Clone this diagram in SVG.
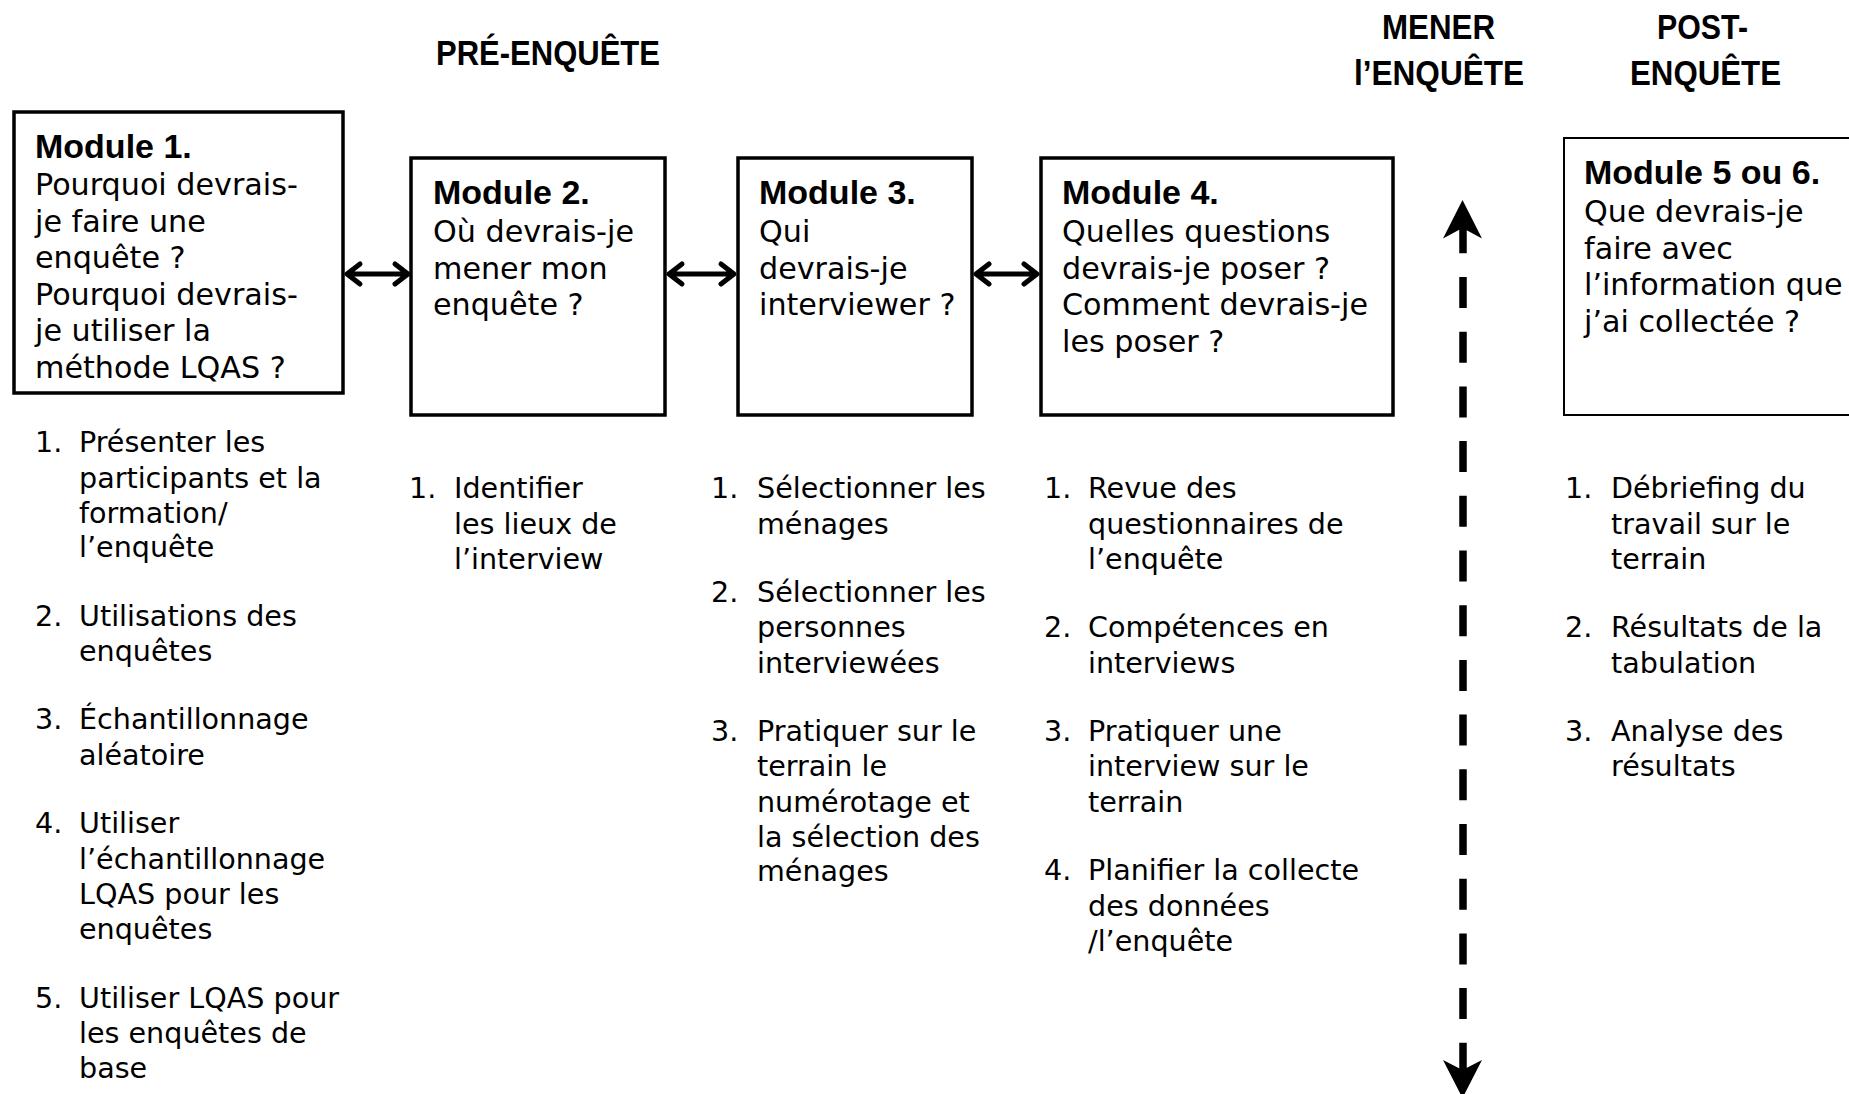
<svg xmlns="http://www.w3.org/2000/svg" width="1849" height="1094" viewBox="0 0 1849 1094">
<style>
.box{fill:#fff;stroke:#000;stroke-width:3.5}
.box5{fill:#fff;stroke:#000;stroke-width:2}
.t{font-family:"DejaVu Sans","Liberation Sans",sans-serif;font-size:30.2px;fill:#000}
.b{font-family:"Liberation Sans",Arial,sans-serif;font-size:34px;font-weight:bold;fill:#000}
.l{font-family:"DejaVu Sans","Liberation Sans",sans-serif;font-size:28.6px;fill:#000}
.h{font-family:"Liberation Sans",Arial,sans-serif;font-size:35px;font-weight:bold;fill:#000}
.conn{stroke:#000;stroke-width:5;fill:none;stroke-linecap:round;stroke-linejoin:round}
</style>
<rect width="1849" height="1094" fill="#fff"/>
<g id="headings">
<text class="h" x="436" y="65" textLength="224" lengthAdjust="spacingAndGlyphs">PRÉ-ENQUÊTE</text>
<text class="h" x="1382" y="39" textLength="113" lengthAdjust="spacingAndGlyphs">MENER</text>
<text class="h" x="1354" y="85" textLength="170" lengthAdjust="spacingAndGlyphs">l’ENQUÊTE</text>
<text class="h" x="1657" y="39" textLength="91" lengthAdjust="spacingAndGlyphs">POST-</text>
<text class="h" x="1630" y="85" textLength="151" lengthAdjust="spacingAndGlyphs">ENQUÊTE</text>
</g>
<g id="module1">
<rect class="box" x="14" y="112" width="329" height="281"/>
<text class="b" x="35" y="158">Module 1.</text>
<text class="t" x="35" y="195">Pourquoi devrais-</text>
<text class="t" x="35" y="231.6">je faire une</text>
<text class="t" x="35" y="268.2">enquête ?</text>
<text class="t" x="35" y="304.8">Pourquoi devrais-</text>
<text class="t" x="35" y="341.4">je utiliser la</text>
<text class="t" x="35" y="378">méthode LQAS ?</text>
</g>
<g id="module2">
<rect class="box" x="411" y="158" width="254" height="257"/>
<text class="b" x="433" y="204">Module 2.</text>
<text class="t" x="433" y="242">Où devrais-je</text>
<text class="t" x="433" y="278.6">mener mon</text>
<text class="t" x="433" y="315.2">enquête ?</text>
</g>
<g id="module3">
<rect class="box" x="738" y="158" width="234" height="257"/>
<text class="b" x="759" y="204">Module 3.</text>
<text class="t" x="759" y="242">Qui</text>
<text class="t" x="759" y="278.6">devrais-je</text>
<text class="t" x="759" y="315.2">interviewer ?</text>
</g>
<g id="module4">
<rect class="box" x="1041" y="158" width="352" height="257"/>
<text class="b" x="1062" y="204">Module 4.</text>
<text class="t" x="1062" y="242">Quelles questions</text>
<text class="t" x="1062" y="278.6">devrais-je poser ?</text>
<text class="t" x="1062" y="315.2">Comment devrais-je</text>
<text class="t" x="1062" y="351.8">les poser ?</text>
</g>
<g id="module5">
<rect class="box5" x="1564" y="138" width="300" height="277"/>
<text class="b" x="1584" y="184">Module 5 ou 6.</text>
<text class="t" x="1584" y="222">Que devrais-je</text>
<text class="t" x="1584" y="258.6">faire avec</text>
<text class="t" x="1584" y="295.2">l’information que</text>
<text class="t" x="1584" y="331.8">j’ai collectée ?</text>
</g>
<g id="list1">
<text class="l" x="35" y="452">1.</text>
<text class="l" x="79" y="452">Présenter les</text>
<text class="l" x="79" y="488">participants et la</text>
<text class="l" x="79" y="523">formation/</text>
<text class="l" x="79" y="557">l’enquête</text>
<text class="l" x="35" y="626">2.</text>
<text class="l" x="79" y="626">Utilisations des</text>
<text class="l" x="79" y="661">enquêtes</text>
<text class="l" x="35" y="729">3.</text>
<text class="l" x="79" y="729">Échantillonnage</text>
<text class="l" x="79" y="765">aléatoire</text>
<text class="l" x="35" y="833">4.</text>
<text class="l" x="79" y="833">Utiliser</text>
<text class="l" x="79" y="869">l’échantillonnage</text>
<text class="l" x="79" y="904">LQAS pour les</text>
<text class="l" x="79" y="939">enquêtes</text>
<text class="l" x="35" y="1008">5.</text>
<text class="l" x="79" y="1008">Utiliser LQAS pour</text>
<text class="l" x="79" y="1043">les enquêtes de</text>
<text class="l" x="79" y="1078">base</text>
</g>
<g id="list2">
<text class="l" x="409" y="498">1.</text>
<text class="l" x="454" y="498">Identifier</text>
<text class="l" x="454" y="534">les lieux de</text>
<text class="l" x="454" y="569">l’interview</text>
</g>
<g id="list3">
<text class="l" x="711" y="498">1.</text>
<text class="l" x="757" y="498">Sélectionner les</text>
<text class="l" x="757" y="534">ménages</text>
<text class="l" x="711" y="602">2.</text>
<text class="l" x="757" y="602">Sélectionner les</text>
<text class="l" x="757" y="637">personnes</text>
<text class="l" x="757" y="673">interviewées</text>
<text class="l" x="711" y="741">3.</text>
<text class="l" x="757" y="741">Pratiquer sur le</text>
<text class="l" x="757" y="776">terrain le</text>
<text class="l" x="757" y="812">numérotage et</text>
<text class="l" x="757" y="847">la sélection des</text>
<text class="l" x="757" y="881">ménages</text>
</g>
<g id="list4">
<text class="l" x="1044" y="498">1.</text>
<text class="l" x="1088" y="498">Revue des</text>
<text class="l" x="1088" y="534">questionnaires de</text>
<text class="l" x="1088" y="569">l’enquête</text>
<text class="l" x="1044" y="637">2.</text>
<text class="l" x="1088" y="637">Compétences en</text>
<text class="l" x="1088" y="673">interviews</text>
<text class="l" x="1044" y="741">3.</text>
<text class="l" x="1088" y="741">Pratiquer une</text>
<text class="l" x="1088" y="776">interview sur le</text>
<text class="l" x="1088" y="812">terrain</text>
<text class="l" x="1044" y="880">4.</text>
<text class="l" x="1088" y="880">Planifier la collecte</text>
<text class="l" x="1088" y="916">des données</text>
<text class="l" x="1088" y="951">/l’enquête</text>
</g>
<g id="list5">
<text class="l" x="1565" y="498">1.</text>
<text class="l" x="1611" y="498">Débriefing du</text>
<text class="l" x="1611" y="534">travail sur le</text>
<text class="l" x="1611" y="569">terrain</text>
<text class="l" x="1565" y="637">2.</text>
<text class="l" x="1611" y="637">Résultats de la</text>
<text class="l" x="1611" y="673">tabulation</text>
<text class="l" x="1565" y="741">3.</text>
<text class="l" x="1611" y="741">Analyse des</text>
<text class="l" x="1611" y="776">résultats</text>
</g>
<g id="connectors">
<path class="conn" d="M348,274 H407 M360,264 L347,274 L360,284 M395,264 L408,274 L395,284"/>
<path class="conn" d="M670,274 H733 M682,264 L669,274 L682,284 M721,264 L734,274 L721,284"/>
<path class="conn" d="M977,274 H1036 M989,264 L976,274 L989,284 M1024,264 L1037,274 L1024,284"/>
<line x1="1463" y1="222.3" x2="1463" y2="1075" stroke="#000" stroke-width="7.5" stroke-dasharray="31 23.7"/>
<polygon points="1462.5,200 1482,238.5 1462.5,228 1443,238.5" fill="#000"/>
<polygon points="1462.5,1098 1482,1060 1462.5,1070 1443,1060" fill="#000"/>
</g>
</svg>
